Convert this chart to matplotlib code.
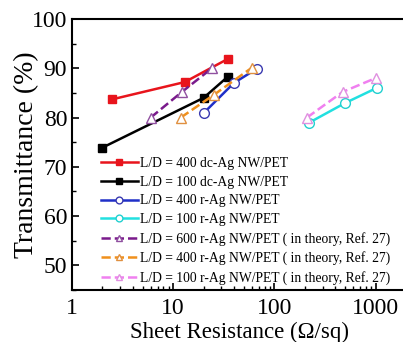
import matplotlib.pyplot as plt
from matplotlib.ticker import MultipleLocator, LogLocator, NullFormatter

plt.rcParams['font.family'] = ['Liberation Serif', 'DejaVu Serif']
plt.rcParams['mathtext.fontset'] = 'stix'

# sheet resistance (ohm/sq) and transmittance (%) per sample
red_x = [2.5, 13.0, 34.7]
red_y = [83.7, 87.2, 91.9]
black_x = [2.0, 20.0, 34.7]
black_y = [73.9, 84.0, 88.3]
blue_x = [20.0, 39.7, 67.0]
blue_y = [80.9, 87.0, 89.9]
cyan_x = [218, 495, 1025]
cyan_y = [78.9, 82.9, 86.0]
purple_x = [6.0, 12.2, 24.1]
purple_y = [80.0, 85.2, 90.0]
orange_x = [11.9, 25.2, 59.8]
orange_y = [80.0, 84.6, 90.1]
pink_x = [210, 473, 1000]
pink_y = [80.0, 85.2, 88.0]

labels = [
    "L/D = 400 dc-Ag NW/PET",
    "L/D = 100 dc-Ag NW/PET",
    "L/D = 400 r-Ag NW/PET",
    "L/D = 100 r-Ag NW/PET",
    "L/D = 600 r-Ag NW/PET ( in theory, Ref. 27)",
    "L/D = 400 r-Ag NW/PET ( in theory, Ref. 27)",
    "L/D = 100 r-Ag NW/PET ( in theory, Ref. 27)",
]

fig = plt.figure(figsize=(4.03, 3.42), dpi=100)
ax = fig.add_axes([72 / 403, 1 - 290 / 342, 334 / 403, 271 / 342])

ax.plot(red_x, red_y, '-s', color='#e8141c', lw=1.8, ms=6, label=labels[0])
ax.plot(black_x, black_y, '-s', color='black', lw=1.8, ms=6, label=labels[1])
ax.plot(blue_x, blue_y, '-o', color='#1f2fc8', lw=1.8, ms=7, mfc='white', mec='#3a3ab0', label=labels[2])
ax.plot(cyan_x, cyan_y, '-o', color='#22e0e0', lw=1.8, ms=7, mfc='white', mec='#22d0d0', label=labels[3])
ax.plot(purple_x, purple_y, '--^', color='#7a1a8c', lw=1.8, ms=7, mfc='white', mec='#9050a0', label=labels[4])
ax.plot(orange_x, orange_y, '--^', color='#f0901c', lw=1.8, ms=7, mfc='white', mec='#e09040', label=labels[5])
ax.plot(pink_x, pink_y, '--^', color='#f080f0', lw=1.8, ms=7, mfc='white', mec='#e090e0', label=labels[6])

ax.set_xscale('log')
ax.set_xlim(1, 2000)
ax.set_ylim(45, 100)
ax.set_xticks([1, 10, 100, 1000])
ax.set_xticklabels(['1', '10', '100', '1000'])
ax.xaxis.set_minor_locator(LogLocator(base=10, subs=range(2, 10)))
ax.xaxis.set_minor_formatter(NullFormatter())
ax.set_yticks([50, 60, 70, 80, 90, 100])
ax.yaxis.set_minor_locator(MultipleLocator(5))
ax.tick_params(which='both', direction='in', labelsize=17)
ax.tick_params(axis='x', which='major', pad=6)
ax.tick_params(which='major', length=5, width=1.2)
ax.tick_params(which='minor', length=3, width=1)
ax.spines['right'].set_visible(False)
for s in ['left', 'bottom', 'top']:
    ax.spines[s].set_linewidth(1.5)

ax.set_xlabel('Sheet Resistance (Ω/sq)', fontsize=16.5, labelpad=2)
ax.set_ylabel('Transmittance (%)', fontsize=20, labelpad=-5)

leg = ax.legend(loc='upper left', bbox_to_anchor=(0.07, 0.51), frameon=False,
                fontsize=9.8, handlelength=2.7, handletextpad=0.2,
                labelspacing=0.41, markerscale=0.7, borderaxespad=0)

fig.savefig('out.png', dpi=100)
